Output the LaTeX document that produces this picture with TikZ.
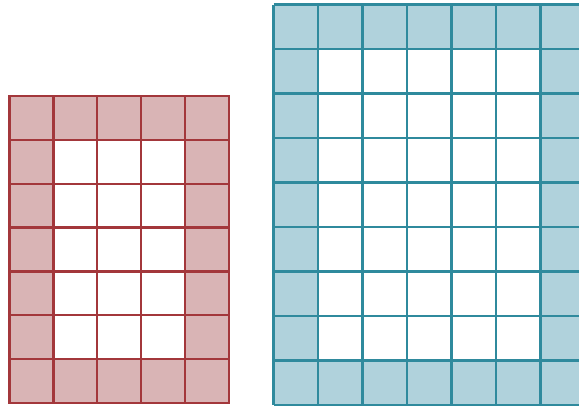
\documentclass[tikz,border=0pt]{standalone}
\definecolor{redline}{HTML}{A3373B}
\definecolor{redfill}{HTML}{D9B4B5}
\definecolor{blueline}{HTML}{2F8A9D}
\definecolor{bluefill}{HTML}{B0D2DC}
\tikzset{
  redgrid/.style={draw=redline, line width=2.2pt},
  bluegrid/.style={draw=blueline, line width=2.1pt},
}
\begin{document}
\begin{tikzpicture}[x=1pt,y=-1pt]
\useasboundingbox (0,0) rectangle (579,407);
\clip (0,0) rectangle (579,407);
% red grid: 5 x 7
\fill[redfill] (9.5,96) rectangle (229,403);
\fill[white] (53.4,139.86) rectangle (185.1,359.14);
\foreach \i in {0,...,5} \draw[redgrid] ({9.5+43.9*\i},96) -- ({9.5+43.9*\i},403);
\foreach \j in {0,...,7} \draw[redgrid] (9.5,{96+43.857*\j}) -- (229,{96+43.857*\j});
\draw[redgrid] (9.5,96) rectangle (229,403);
% blue grid: 7 x 9
\fill[bluefill] (273.5,4.5) rectangle (585,405);
\fill[white] (318,49) rectangle (540.5,360.5);
\foreach \i in {0,...,7} \draw[bluegrid] ({273.5+44.5*\i},4.5) -- ({273.5+44.5*\i},405);
\foreach \j in {0,...,9} \draw[bluegrid] (273.5,{4.5+44.5*\j}) -- (585,{4.5+44.5*\j});
\end{tikzpicture}
\end{document}
